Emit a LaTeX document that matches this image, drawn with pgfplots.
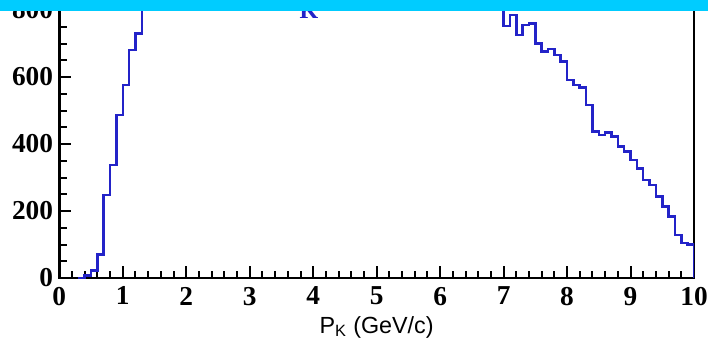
\documentclass[border=0pt]{standalone}
\usepackage{pgfplots}
\pgfplotsset{compat=1.18}
\usepackage{fontspec}
\setmainfont{Liberation Serif}
\setsansfont{Liberation Sans}
\definecolor{histblue}{RGB}{35,35,200}
\definecolor{barcyan}{RGB}{0,204,255}
\begin{document}
\begin{tikzpicture}
\begin{scope}
\clip (-44.5pt,-46.5pt) rectangle (486.5pt,208.5pt);
\begin{axis}[
  at={(0pt,0pt)}, anchor=south west,
  scale only axis, width=476pt, height=301.5pt,
  xmin=0, xmax=10, ymin=0, ymax=1200,
  axis line style={line width=1.9pt, black},
  xtick={0,1,...,10}, minor x tick num=4,
  ytick={0,200,...,1200}, minor y tick num=3,
  tick align=inside, tick pos=left,
  major tick length=9pt, minor tick length=5.5pt,
  every tick/.style={line width=1.5pt, black},
  /pgf/number format/assume math mode=true,
  ticklabel style={font=\bfseries\fontsize{20.5}{20.5}\selectfont, inner sep=0pt},
  yticklabel style={xshift=-4.5pt},
  xticklabel style={yshift=-6.5pt},
  xlabel={P\textsubscript{K} (GeV/c)},
  xlabel style={font=\sffamily\fontsize{17.5}{17.5}\selectfont, at={(axis description cs:0.5,0)}, anchor=base, yshift=-41.5pt, inner sep=0pt},
]
\addplot[const plot, histblue, line width=1.9pt] coordinates {
(0.3,0) (0.4,7) (0.5,22) (0.6,70) (0.7,248) (0.8,337) (0.9,487) (1.0,576)
(1.1,681) (1.2,730) (1.3,860) (1.4,930) (1.5,985) (1.6,1020) (1.7,1050)
(1.8,1070) (1.9,1085) (2.0,1095) (2.1,1100) (2.2,1105) (2.3,1102) (2.4,1098)
(2.5,1095) (2.6,1090) (2.7,1085) (2.8,1080) (2.9,1072) (3.0,1065) (3.1,1058)
(3.2,1050) (3.3,1042) (3.4,1035) (3.5,1028) (3.6,1020) (3.7,1012) (3.8,1005)
(3.9,998) (4.0,990) (4.1,982) (4.2,975) (4.3,968) (4.4,960) (4.5,952)
(4.6,945) (4.7,938) (4.8,930) (4.9,922) (5.0,915) (5.1,908) (5.2,900)
(5.3,895) (5.4,890) (5.5,884) (5.6,878) (5.7,872) (5.8,866) (5.9,860)
(6.0,855) (6.1,850) (6.2,846) (6.3,842) (6.4,838) (6.5,834) (6.6,830)
(6.7,826) (6.8,822) (6.9,818)
(7.0,752) (7.1,785) (7.2,725) (7.3,755) (7.4,760) (7.5,700) (7.6,676)
(7.7,683) (7.8,666) (7.9,646) (8.0,591) (8.1,576) (8.2,569) (8.3,516)
(8.4,437) (8.5,427) (8.6,434) (8.7,422) (8.8,392) (8.9,377) (9.0,352)
(9.1,327) (9.2,293) (9.3,278) (9.4,243) (9.5,213) (9.6,183) (9.7,128)
(9.8,105) (9.9,100) (10.0,0)
};
\end{axis}
\node[text=histblue, font=\bfseries\fontsize{18}{18}\selectfont, anchor=base, inner sep=0pt] at (187.3pt,195pt) {K};
\fill[barcyan] (-44.5pt,200.25pt) rectangle (486.5pt,208.5pt);
\end{scope}
\pgfresetboundingbox
\useasboundingbox (-44.5pt,-46.5pt) rectangle (486.5pt,208.5pt);
\end{tikzpicture}
\end{document}
